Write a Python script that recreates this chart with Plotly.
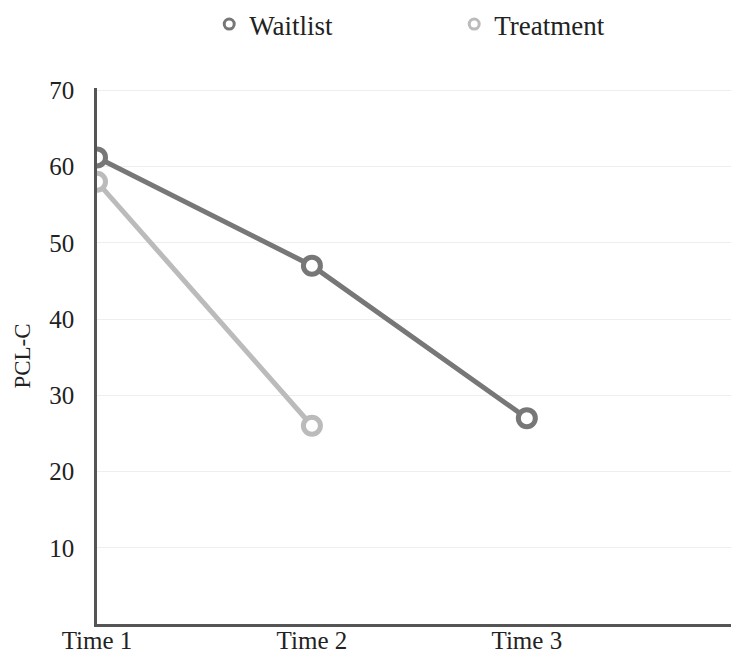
import plotly.graph_objects as go

categories = ["Time 1", "Time 2", "Time 3"]
waitlist = [61.2, 47.0, 27.0]
treatment = [58.0, 26.0]
y_ticks = [10, 20, 30, 40, 50, 60, 70]

dark = "#777777"
light = "#bbbbbb"

fig = go.Figure()
fig.add_trace(go.Scatter(
    x=categories, y=waitlist, name="Waitlist", mode="lines+markers", showlegend=False,
    line=dict(color=dark, width=5),
    marker=dict(symbol="circle", size=17, color="white", line=dict(color=dark, width=5)),
))
fig.add_trace(go.Scatter(
    x=categories[:len(treatment)], y=treatment, name="Treatment", mode="lines+markers",
    showlegend=False,
    line=dict(color=light, width=5),
    marker=dict(symbol="circle", size=17, color="white", line=dict(color=light, width=5)),
))
# legend entries (marker only, like the reference)
for nm, col in [("Waitlist", dark), ("Treatment", light)]:
    fig.add_trace(go.Scatter(
        x=[None], y=[None], name=nm, mode="markers",
        marker=dict(symbol="circle", size=10, color="white", line=dict(color=col, width=3)),
    ))

fam = "Liberation Serif, Times New Roman, serif"
font = dict(family=fam, size=25, color="#222")
fig.update_layout(
    width=731, height=656,
    margin=dict(l=97, r=0, t=88, b=32),
    paper_bgcolor="white", plot_bgcolor="white",
    font=font,
    showlegend=True,
    legend=dict(orientation="h", x=0.177, xanchor="left", y=1.0, yref="container",
                yanchor="top", font=dict(family=fam, size=27, color="#222"),
                itemwidth=30, entrywidth=200, entrywidthmode="pixels"),
    xaxis=dict(type="category", range=[0, 2.95], showgrid=False, showline=True,
               linecolor="#555", linewidth=2.5, ticks="", tickfont=font, zeroline=False,
               automargin=False, ticklabelstandoff=-8),
    yaxis=dict(range=[0, 70.3], tickvals=y_ticks, showgrid=True, gridcolor="#eeeeee",
               gridwidth=1, showline=True, linecolor="#555", linewidth=2.5, ticks="",
               ticklabelstandoff=15, tickfont=font, zeroline=False, automargin=False,
               title=dict(text="PCL-C", font=dict(family=fam, size=23, color="#222"),
                          standoff=13)),
)
fig.write_html("out.html", config={"displayModeBar": False},
               post_script="document.body.style.margin='0px';")
